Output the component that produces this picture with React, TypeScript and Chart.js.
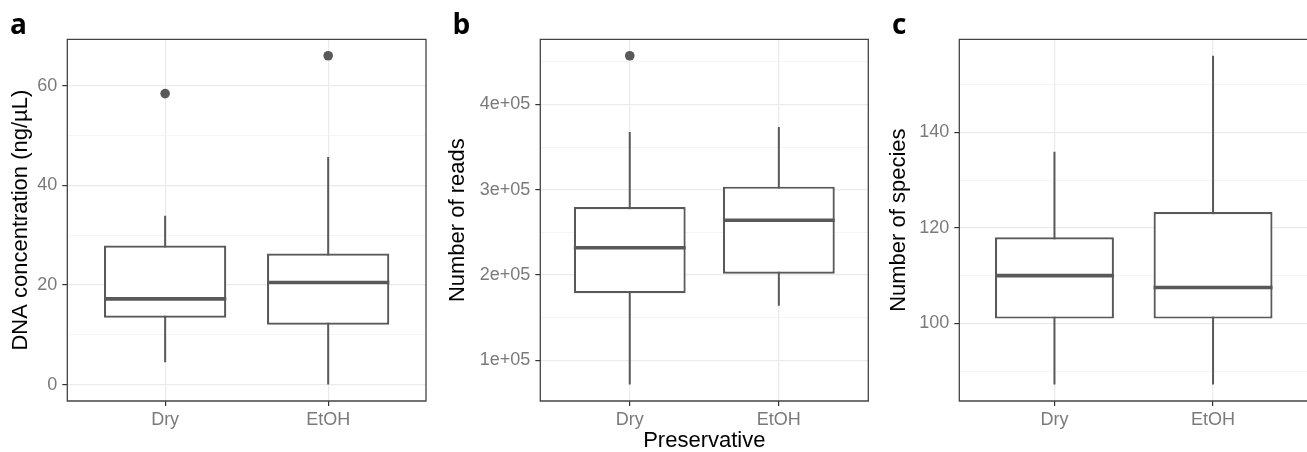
import React, { useEffect, useRef } from 'react';
import { Chart, registerables } from 'chart.js';
Chart.register(...registerables);

// ---------- data ----------
const categories = ['Dry', 'EtOH'];

// a: DNA concentration (ng/µL)
const dnaWhiskerLow = [4.5, 0];
const dnaQ1 = [13.4, 12.0];
const dnaMedian = [17.2, 20.5];
const dnaQ3 = [27.9, 26.3];
const dnaWhiskerHigh = [33.9, 45.7];
const dnaOutliers = [[58.4], [66.0]];
const dnaMajorTicks = [0, 20, 40, 60];
const dnaMinorTicks = [10, 30, 50];
const dnaTickLabels = ['0', '20', '40', '60'];

// b: Number of reads
const readsWhiskerLow = [71500, 164000];
const readsQ1 = [178500, 201500];
const readsMedian = [231900, 264100];
const readsQ3 = [279700, 303500];
const readsWhiskerHigh = [367500, 373400];
const readsOutliers = [[457000], []];
const readsMajorTicks = [100000, 200000, 300000, 400000];
const readsMinorTicks = [150000, 250000, 350000, 450000];
const readsTickLabels = ['1e+05', '2e+05', '3e+05', '4e+05'];

// c: Number of species
const speciesWhiskerLow = [87.2, 87.2];
const speciesQ1 = [101, 101];
const speciesMedian = [110, 107.5];
const speciesQ3 = [118, 123.3];
const speciesWhiskerHigh = [135.9, 156];
const speciesOutliers = [[], []];
const speciesMajorTicks = [100, 120, 140];
const speciesMinorTicks = [90, 110, 130, 150];
const speciesTickLabels = ['100', '120', '140'];

// ---------- styling ----------
const FONT = '"Liberation Sans", Arial, Helvetica, sans-serif';
const LINE = '#595959';
const TICK_TEXT = '#7a7a7a';
const GRID_MAJOR = '#EBEBEB';
const GRID_MINOR = '#F3F3F3';
const FRAME = '#444444';
const BOX_WIDTH = 0.75;

type PanelCfg = {
  letter: string;
  letterLeft: number;
  left: number;
  width: number;
  yAxisWidth: number;
  padRight: number;
  rightFrame: boolean;
  yTitle: string;
  yTitlePad: number;
  xTitle?: string;
  low: number[];
  q1: number[];
  median: number[];
  q3: number[];
  high: number[];
  outliers: number[][];
  majorTicks: number[];
  minorTicks: number[];
  tickLabels: string[];
};

const panels: PanelCfg[] = [
  {
    letter: 'a', letterLeft: 10, left: 0, width: 430, yAxisWidth: 67.3, padRight: 4, rightFrame: true,
    yTitle: 'DNA concentration (ng/µL)', yTitlePad: 9.7,
    low: dnaWhiskerLow, q1: dnaQ1, median: dnaMedian, q3: dnaQ3, high: dnaWhiskerHigh,
    outliers: dnaOutliers, majorTicks: dnaMajorTicks, minorTicks: dnaMinorTicks, tickLabels: dnaTickLabels,
  },
  {
    letter: 'b', letterLeft: 452.5, left: 430, width: 440, yAxisWidth: 110.3, padRight: 1.7, rightFrame: true,
    yTitle: 'Number of reads', yTitlePad: 17.4, xTitle: 'Preservative',
    low: readsWhiskerLow, q1: readsQ1, median: readsMedian, q3: readsQ3, high: readsWhiskerHigh,
    outliers: readsOutliers, majorTicks: readsMajorTicks, minorTicks: readsMinorTicks, tickLabels: readsTickLabels,
  },
  {
    letter: 'c', letterLeft: 892, left: 870, width: 460, yAxisWidth: 89.3, padRight: 21.8, rightFrame: false,
    yTitle: 'Number of species', yTitlePad: 18.1,
    low: speciesWhiskerLow, q1: speciesQ1, median: speciesMedian, q3: speciesQ3, high: speciesWhiskerHigh,
    outliers: speciesOutliers, majorTicks: speciesMajorTicks, minorTicks: speciesMinorTicks, tickLabels: speciesTickLabels,
  },
];

const makeFramePlugin = (rightFrame: boolean) => ({
  id: 'frame',
  afterDraw(chart: any) {
    const { ctx, chartArea } = chart;
    const { left, right, top, bottom } = chartArea;
    ctx.save();
    ctx.strokeStyle = FRAME;
    ctx.lineWidth = 1.3;
    ctx.beginPath();
    if (rightFrame) {
      ctx.rect(left, top, right - left, bottom - top);
    } else {
      ctx.moveTo(right + 2, top);
      ctx.lineTo(left, top);
      ctx.lineTo(left, bottom);
      ctx.lineTo(right + 2, bottom);
    }
    ctx.stroke();
    ctx.restore();
  },
});

function Panel({ cfg }: { cfg: PanelCfg }) {
  const ref = useRef<HTMLCanvasElement | null>(null);
  useEffect(() => {
    if (!ref.current) return;
    const xs = categories.map((_, i) => i + 1);
    const allVals = [...cfg.low, ...cfg.high, ...cfg.outliers.flat()];
    const dMin = Math.min(...allVals);
    const dMax = Math.max(...allVals);
    const pad = (dMax - dMin) * 0.05;
    const majorSet = new Set(cfg.majorTicks);
    const allTicks = [...cfg.majorTicks, ...cfg.minorTicks].sort((a, b) => a - b);

    const whiskerData: any[] = [];
    const medianData: any[] = [];
    xs.forEach((x, i) => {
      whiskerData.push({ x, y: cfg.low[i] }, { x, y: cfg.high[i] }, { x: x + 0.5, y: null });
      medianData.push(
        { x: x - BOX_WIDTH / 2, y: cfg.median[i] },
        { x: x + BOX_WIDTH / 2, y: cfg.median[i] },
        { x: x + 0.5, y: null },
      );
    });
    const outlierData: any[] = [];
    cfg.outliers.forEach((arr, i) => arr.forEach((v) => outlierData.push({ x: xs[i], y: v })));

    const chart = new Chart(ref.current, {
      type: 'bar',
      data: {
        datasets: [
          {
            type: 'scatter',
            data: outlierData,
            backgroundColor: LINE,
            borderWidth: 0,
            pointRadius: 4.8,
            order: 0,
          } as any,
          {
            type: 'line',
            data: medianData,
            borderColor: LINE,
            borderWidth: 3.6,
            borderCapStyle: 'butt',
            pointRadius: 0,
            spanGaps: false,
            order: 1,
          } as any,
          {
            type: 'bar',
            data: xs.map((x, i) => ({ x, y: [cfg.q1[i], cfg.q3[i]] })),
            backgroundColor: '#ffffff',
            borderColor: LINE,
            borderWidth: 2.2,
            borderSkipped: false,
            barPercentage: BOX_WIDTH,
            categoryPercentage: 1,
            order: 2,
          } as any,
          {
            type: 'line',
            data: whiskerData,
            borderColor: LINE,
            borderWidth: 2,
            borderCapStyle: 'butt',
            pointRadius: 0,
            spanGaps: false,
            order: 3,
          } as any,
        ],
      },
      options: {
        animation: false,
        responsive: false,
        devicePixelRatio: 1,
        layout: { autoPadding: false, padding: { left: 0, right: cfg.padRight, top: 39.3, bottom: 0 } },
        plugins: { legend: { display: false }, tooltip: { enabled: false } },
        scales: {
          x: {
            type: 'linear',
            min: 0.4,
            max: categories.length + 0.6,
            offset: false,
            bounds: 'data',
            afterBuildTicks: (scale: any) => {
              scale.ticks = xs.map((v) => ({ value: v }));
            },
            afterFit: (scale: any) => {
              scale.height = 51;
            },
            ticks: {
              autoSkip: false,
              maxRotation: 0,
              padding: 3,
              color: TICK_TEXT,
              font: { family: FONT, size: 18 },
              callback: (v: any) => categories[Math.round(Number(v)) - 1] ?? '',
            },
            grid: {
              offset: false,
              color: GRID_MAJOR,
              lineWidth: 1.2,
              tickLength: 5,
              tickColor: '#333333',
              tickWidth: 1.2,
            },
            border: { display: false },
            title: {
              display: !!cfg.xTitle,
              text: cfg.xTitle || '',
              color: '#000000',
              font: { family: FONT, size: 22, lineHeight: 1 },
              padding: { top: 0, bottom: 0.3 },
            },
          },
          y: {
            type: 'linear',
            min: dMin - pad,
            max: dMax + pad,
            bounds: 'data',
            afterBuildTicks: (scale: any) => {
              scale.ticks = allTicks.map((v) => ({ value: v }));
            },
            afterFit: (scale: any) => {
              scale.width = cfg.yAxisWidth;
            },
            ticks: {
              autoSkip: false,
              padding: 5,
              color: TICK_TEXT,
              font: { family: FONT, size: 18 },
              callback: (v: any) => {
                const idx = cfg.majorTicks.indexOf(Number(v));
                return idx >= 0 ? cfg.tickLabels[idx] : '';
              },
            },
            grid: {
              color: (ctx: any) => (majorSet.has(ctx.tick?.value) ? GRID_MAJOR : GRID_MINOR),
              lineWidth: (ctx: any) => (majorSet.has(ctx.tick?.value) ? 1.2 : 0.8),
              tickLength: 5,
              tickColor: (ctx: any) => (majorSet.has(ctx.tick?.value) ? '#333333' : 'rgba(0,0,0,0)'),
              tickWidth: 1.2,
            },
            border: { display: false },
            title: {
              display: true,
              text: cfg.yTitle,
              color: '#000000',
              font: { family: FONT, size: 22, lineHeight: 1 },
              padding: { top: cfg.yTitlePad, bottom: 0 },
            },
          },
        },
      } as any,
      plugins: [makeFramePlugin(cfg.rightFrame)],
    });
    return () => chart.destroy();
  }, [cfg]);

  return (
    <>
      <canvas
        ref={ref}
        width={cfg.width}
        height={452}
        style={{ position: 'absolute', left: cfg.left, top: 0, width: cfg.width, height: 452 }}
      />
      <div
        style={{
          position: 'absolute',
          left: cfg.letterLeft,
          top: 8.5,
          fontFamily: '"Open Sans", "DejaVu Sans", sans-serif',
          fontWeight: 700,
          fontSize: 28,
          lineHeight: '28px',
          color: '#000',
        }}
      >
        {cfg.letter}
      </div>
    </>
  );
}

export default function App() {
  return (
    <div
      style={{
        position: 'fixed',
        left: 0,
        top: 0,
        width: 1307,
        height: 452,
        overflow: 'hidden',
        background: '#ffffff',
      }}
    >
      {panels.map((p) => (
        <Panel key={p.letter} cfg={p} />
      ))}
    </div>
  );
}
